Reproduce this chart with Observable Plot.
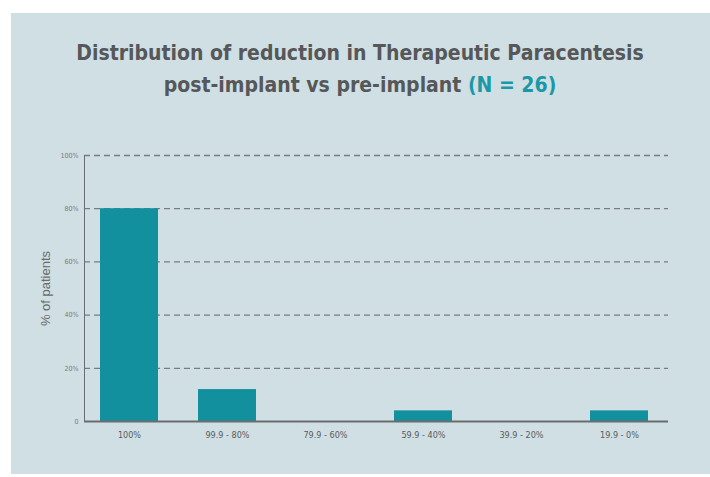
<!DOCTYPE html>
<html>
<head>
<meta charset="utf-8">
<script src="https://cdn.jsdelivr.net/npm/d3@7"></script>
<script src="https://cdn.jsdelivr.net/npm/@observablehq/plot@0.6"></script>
<style>
  html, body { margin: 0; padding: 0; background: #ffffff; }
  #page { position: relative; width: 710px; height: 477px; overflow: hidden; background: #ffffff; }
  #panel { position: absolute; left: 11px; top: 13px; width: 699px; height: 461px; background: #cfdfe3; }
  #title { position: absolute; left: 0; top: 37px; width: 720px; text-align: center;
           font-family: "Liberation Sans Narrow", "Arial Narrow", "DejaVu Sans Condensed", sans-serif;
           font-weight: bold; font-size: 21px; line-height: 32px; color: #555759; }
  #title .n { color: #1a98a6; }
  #chart { position: absolute; left: 0; top: 130px; }
</style>
</head>
<body>
<div id="page">
  <div id="panel"></div>
  <div id="title">Distribution of reduction in Therapeutic Paracentesis<br>post-implant vs pre-implant <span class="n">(N = 26)</span></div>
  <div id="chart"></div>
</div>
<script>
const categories = ["100%", "99.9 - 80%", "79.9 - 60%", "59.9 - 40%", "39.9 - 20%", "19.9 - 0%"];
const percentPatients = [80, 12, 0, 4, 0, 4];
const yTicks = [0, 20, 40, 60, 80, 100];
const yTickLabels = ["0", "20%", "40%", "60%", "80%", "100%"];

const data = categories.map((c, i) => ({category: c, value: percentPatients[i]}));

const chart = Plot.plot({
  width: 710,
  height: 330,
  marginLeft: 84,
  marginRight: 42,
  marginTop: 25,
  marginBottom: 39,
  style: {background: "transparent", fontFamily: "Liberation Sans Narrow, Arial Narrow, DejaVu Sans Condensed, sans-serif"},
  x: {domain: categories, range: [57.7, 691], padding: 0.41, label: null},
  y: {domain: [0, 100], label: null},
  marks: [
    Plot.ruleY(yTicks.filter(d => d > 0), {stroke: "#7a7d80", strokeWidth: 1.3, strokeDasharray: "6,4"}),
    Plot.barY(data, {x: "category", y: "value", fill: "#12909e"}),
    Plot.ruleY([0], {stroke: "#6a6c6e", strokeWidth: 2}),
    Plot.axisY(yTicks, {
      tickFormat: d => yTickLabels[yTicks.indexOf(d)],
      tickSize: 0, tickPadding: 6, fontSize: 7, fill: "#7a7c7e", label: null
    }),
    Plot.frame({anchor: "left", stroke: "#6a6c6e", strokeWidth: 1}),
    Plot.axisX({tickSize: 0, tickPadding: 10, fontSize: 9, fill: "#5a5c5e", label: null}),
    Plot.text(["% of patients"], {
      frameAnchor: "left", dx: -39, rotate: -90, textAnchor: "middle",
      fontSize: 13, fill: "#6a6c6e", fontFamily: "Liberation Sans, Arial, sans-serif"
    })
  ]
});
document.getElementById("chart").appendChild(chart);
</script>
</body>
</html>
